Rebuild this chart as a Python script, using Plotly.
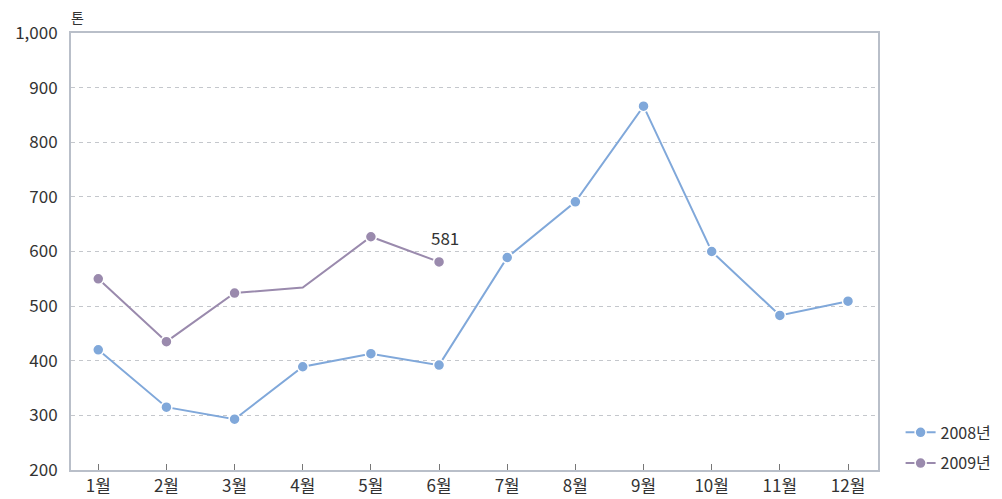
import plotly.graph_objects as go

months = ["1월", "2월", "3월", "4월", "5월", "6월", "7월", "8월", "9월", "10월", "11월", "12월"]
s2008 = [420, 315, 293, 389, 413, 392, 589, 691, 866, 600, 483, 509]
s2009 = [550, 435, 524, 534, 627, 581]
s2009_has_marker = [True, True, True, False, True, True]
y_ticks = [200, 300, 400, 500, 600, 700, 800, 900, 1000]
y_tick_labels = ["200", "300", "400", "500", "600", "700", "800", "900", "1,000"]

c2008 = "#80a8da"
c2009 = "#9a8aad"
font = "Noto Sans CJK KR, Noto Sans, sans-serif"

xs = list(range(1, 13))
clear = "rgba(0,0,0,0)"

fig = go.Figure()
fig.add_trace(go.Scatter(
    x=xs, y=s2008, name="2008년", mode="lines+markers", legendgroup="a",
    line=dict(color=c2008, width=2),
    marker=dict(size=11, color=c2008, line=dict(color="white", width=1.5)),
))
fig.add_trace(go.Scatter(
    x=xs[:len(s2009)], y=s2009, name="2009년", mode="lines+markers", legendgroup="b",
    line=dict(color=c2009, width=2),
    marker=dict(size=11,
                color=[c2009 if m else clear for m in s2009_has_marker],
                line=dict(color=["white" if m else clear for m in s2009_has_marker], width=1.5)),
))

fig.add_annotation(x=6, y=s2009[5], text=str(s2009[5]), showarrow=False,
                   yshift=24, xshift=6, font=dict(size=17, color="#333333"))
fig.add_annotation(x=0, y=1, xref="paper", yref="paper", text="톤", showarrow=False,
                   xanchor="left", yanchor="bottom", yshift=4, xshift=-2,
                   font=dict(size=14, color="#333333"))

fig.update_layout(
    width=994, height=491,
    margin=dict(l=63, r=124, t=25, b=29, autoexpand=False),
    paper_bgcolor="white", plot_bgcolor="white",
    font=dict(family=font, size=16, color="#333333"),
    legend=dict(x=1.028, y=0.125, xanchor="left", yanchor="top",
                font=dict(size=16, color="#333333"), tracegroupgap=7,
                bgcolor="rgba(0,0,0,0)"),
    xaxis=dict(
        range=[0.6, 12.44], tickmode="array", tickvals=xs, ticktext=months,
        showline=True, mirror=True, linecolor="#b9bfc9", linewidth=2,
        showgrid=False, zeroline=False, automargin=False,
        ticks="inside", ticklen=6, tickcolor="#777777", tickwidth=1,
        tickfont=dict(size=17, color="#333333"),
    ),
    yaxis=dict(
        range=[200, 1000], tickmode="array", tickvals=y_ticks, ticktext=y_tick_labels,
        showline=True, mirror=True, linecolor="#b9bfc9", linewidth=2,
        showgrid=True, gridcolor="#c4c7cc", gridwidth=1, griddash="4px,4px",
        zeroline=False, ticks="", ticklabelstandoff=8, automargin=False,
        tickfont=dict(size=17, color="#333333"),
    ),
)

fig.write_html("out.html")
